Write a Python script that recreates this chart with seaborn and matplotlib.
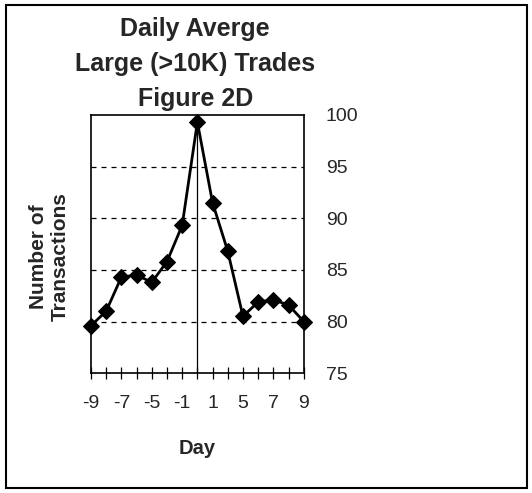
import matplotlib
matplotlib.use("Agg")
import matplotlib.pyplot as plt
import seaborn as sns
import pandas as pd
from matplotlib.patches import Rectangle

days = [-9, -8, -7, -6, -5, -3, -1, 0, 1, 3, 5, 6, 7, 8, 9]
tick_labels = ["-9", "", "-7", "", "-5", "", "-1", "", "1", "", "5", "", "7", "", "9"]
transactions = [79.6, 81.0, 84.3, 84.5, 83.8, 85.8, 89.3, 99.3, 91.5, 86.8, 80.5, 81.9, 82.1, 81.6, 80.0]
y_ticks = [75, 80, 85, 90, 95, 100]
grid_levels = [80, 85, 90, 95]

sns.set_theme(style="white")
plt.rcParams['font.family'] = ['Liberation Sans', 'DejaVu Sans']

df = pd.DataFrame({"pos": list(range(len(days))), "day": days, "n": transactions})

fig = plt.figure(figsize=(5.32, 4.93), dpi=100)
ax = fig.add_axes([0.171, 0.243, 0.400, 0.524])

for g in grid_levels:
    ax.axhline(g, color="black", lw=0.9, ls=(0, (4, 4)), zorder=1)
zero_pos = days.index(0)
ax.axvline(zero_pos, color="black", lw=0.9, zorder=1)

sns.lineplot(data=df, x="pos", y="n", ax=ax, color="black", lw=2,
             marker="D", markersize=8, markeredgecolor="black",
             markerfacecolor="black", zorder=3, clip_on=False)

ax.set_xlim(0, len(days) - 1)
ax.set_ylim(75, 100)
ax.set_xticks(df["pos"])
ax.set_xticklabels(tick_labels, fontsize=14)
ax.set_yticks(y_ticks)
ax.set_yticklabels([str(v) for v in y_ticks], fontsize=14)
ax.yaxis.tick_right()
ax.tick_params(axis="y", length=0, pad=16)
ax.tick_params(axis="x", direction="inout", length=8, width=0.9, bottom=True, pad=12, color="black")
for s in ax.spines.values():
    s.set_color("black")
    s.set_linewidth(1.2)

ax.set_xlabel("Day", fontsize=14.5, fontweight="bold")
ax.xaxis.set_label_coords(0.5, -0.256)
ax.set_ylabel("Number of\nTransactions", fontsize=15, fontweight="bold", linespacing=1.2)
ax.yaxis.set_label_position("left")
ax.yaxis.set_label_coords(-0.10, 0.45)

fig.text(0.367, 1 - 64 / 493, "Daily Averge\nLarge (>10K) Trades\nFigure 2D",
         fontsize=18, fontweight="bold", ha="center", va="center", linespacing=1.6)

fig.patches.append(Rectangle((0.012, 0.01), 0.978, 0.98, transform=fig.transFigure,
                             fill=False, edgecolor="black", lw=1.5))

fig.savefig("out.png", dpi=100)
